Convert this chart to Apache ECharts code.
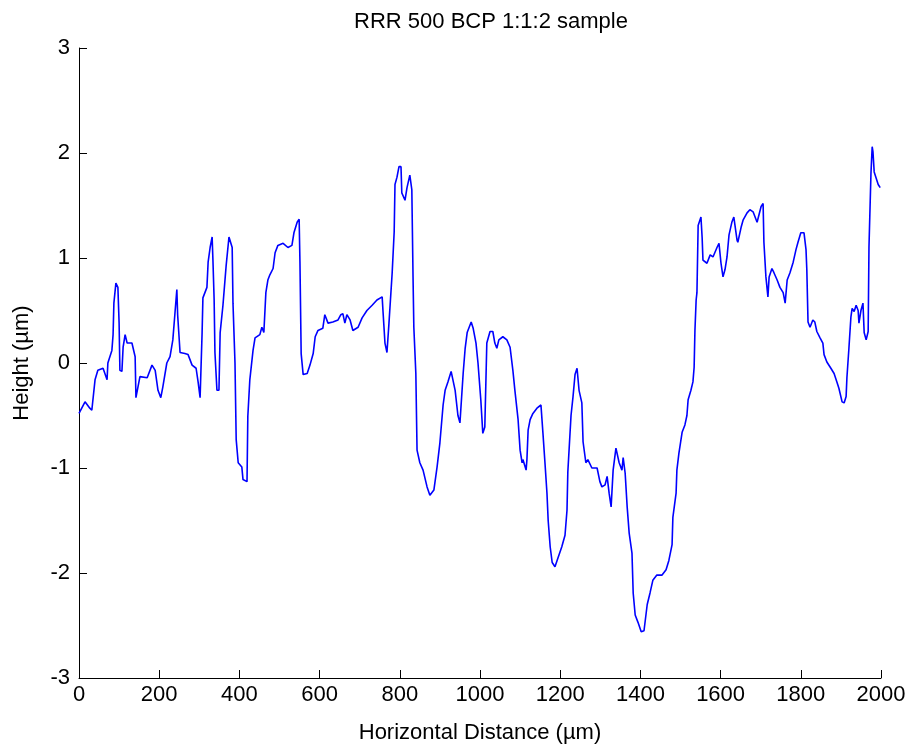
<!DOCTYPE html>
<html>
<head>
<meta charset="utf-8">
<script src="https://cdn.jsdelivr.net/npm/echarts@6/dist/echarts.min.js"></script>
<style>
html,body{margin:0;padding:0;background:#fff;}
#chart{width:910px;height:751px;}
</style>
</head>
<body>
<div id="chart"></div>
<script>
const titleText = "RRR 500 BCP 1:1:2 sample";
const xAxisName = "Horizontal Distance (\u00b5m)";
const yAxisName = "Height (\u00b5m)";

const distance = [
0,15,27,32,40,47,60,70,72,82,85,87,92,97,100,102,107,110,115,120,132,140,142,147,152,170,182,190,197,204,209,219,227,234,239,244,246,252,264,272,282,292,297,302,307,309,319,322,327,332,334,337,339,344,349,352,359,367,374,382,384,389,392,397,406,409,419,421,426,434,439,451,456,461,466,471,476,484,489,496,509,521,531,536,544,549,551,554,559,569,576,584,589,596,608,613,621,633,646,653,658,663,668,676,683,696,706,718,731,743,756,758,763,768,773,781,786,788,793,798,803,805,813,818,825,830,833,835,840,843,850,858,868,875,885,893,900,908,913,920,928,938,945,950,958,963,968,978,983,990,995,1002,1007,1012,1017,1025,1032,1037,1042,1047,1057,1067,1075,1082,1087,1095,1100,1105,1107,1115,1117,1120,1125,1132,1142,1152,1157,1162,1167,1170,1175,1180,1187,1195,1204,1212,1217,1219,1227,1232,1237,1242,1247,1254,1257,1264,1269,1279,1292,1299,1304,1312,1317,1322,1327,1332,1339,1342,1347,1354,1357,1362,1367,1372,1379,1382,1387,1394,1402,1409,1417,1424,1431,1441,1454,1464,1471,1479,1481,1489,1491,1496,1504,1511,1516,1519,1526,1531,1534,1536,1539,1541,1544,1551,1554,1556,1566,1574,1581,1591,1596,1601,1606,1611,1616,1621,1628,1633,1641,1643,1651,1656,1666,1673,1681,1691,1693,1701,1706,1708,1713,1718,1721,1728,1733,1741,1748,1756,1761,1766,1773,1781,1788,1793,1800,1808,1813,1815,1818,1823,1830,1835,1840,1848,1855,1858,1865,1875,1883,1890,1895,1903,1908,1913,1915,1920,1925,1928,1933,1938,1943,1945,1950,1955,1958,1963,1968,1970,1975,1978,1980,1983,1988,1993,1998
];
const height = [
-0.48,-0.37,-0.43,-0.45,-0.16,-0.07,-0.05,-0.16,0,0.12,0.27,0.57,0.76,0.72,0.38,-0.07,-0.08,0.15,0.27,0.19,0.19,0.06,-0.33,-0.23,-0.13,-0.14,-0.02,-0.07,-0.26,-0.33,-0.23,0,0.06,0.22,0.46,0.70,0.46,0.10,0.09,0.08,-0.02,-0.05,-0.18,-0.33,0.29,0.62,0.72,0.96,1.1,1.2,0.98,0.6,0.1,-0.26,-0.26,0.29,0.55,0.93,1.2,1.1,0.57,0,-0.73,-0.95,-0.99,-1.11,-1.13,-0.51,-0.16,0.12,0.24,0.27,0.34,0.29,0.67,0.79,0.84,0.9,1.05,1.12,1.14,1.1,1.12,1.24,1.34,1.37,0.96,0.09,-0.11,-0.1,-0.02,0.09,0.25,0.31,0.33,0.46,0.38,0.39,0.41,0.46,0.47,0.38,0.46,0.41,0.31,0.34,0.43,0.5,0.55,0.6,0.63,0.5,0.19,0.1,0.38,0.86,1.25,1.7,1.77,1.87,1.87,1.62,1.55,1.67,1.79,1.65,0.82,0.34,-0.1,-0.83,-0.95,-1.02,-1.18,-1.26,-1.21,-0.99,-0.76,-0.4,-0.26,-0.18,-0.08,-0.26,-0.5,-0.57,-0.1,0.14,0.29,0.39,0.33,0.19,0,-0.35,-0.67,-0.61,0.19,0.3,0.3,0.19,0.14,0.22,0.25,0.22,0.15,-0.07,-0.26,-0.54,-0.83,-0.95,-0.92,-1.02,-0.92,-0.64,-0.54,-0.48,-0.43,-0.4,-0.67,-0.95,-1.24,-1.5,-1.75,-1.9,-1.94,-1.85,-1.75,-1.64,-1.4,-1.04,-0.5,-0.32,-0.11,-0.05,-0.26,-0.38,-0.75,-0.95,-0.92,-1.0,-1.0,-1.13,-1.18,-1.16,-1.08,-1.24,-1.37,-1.02,-0.81,-0.8,-0.95,-1.02,-0.9,-1.05,-1.37,-1.62,-1.81,-2.19,-2.4,-2.47,-2.56,-2.55,-2.3,-2.19,-2.07,-2.02,-2.02,-1.97,-1.88,-1.73,-1.47,-1.24,-1.02,-0.86,-0.66,-0.59,-0.5,-0.35,-0.26,-0.18,-0.04,0.31,0.6,0.67,1.31,1.39,1.19,0.98,0.95,1.03,1.01,1.1,1.14,0.95,0.82,0.89,1.01,1.22,1.34,1.39,1.17,1.15,1.29,1.36,1.43,1.46,1.44,1.34,1.33,1.49,1.52,1.15,0.82,0.63,0.82,0.9,0.86,0.79,0.72,0.67,0.57,0.79,0.86,0.96,1.08,1.15,1.24,1.24,1.08,0.89,0.39,0.34,0.41,0.39,0.3,0.24,0.19,0.08,0.01,-0.05,-0.1,-0.18,-0.24,-0.37,-0.38,-0.32,-0.14,0.14,0.44,0.52,0.49,0.55,0.5,0.38,0.5,0.57,0.29,0.22,0.3,1.1,1.81,2.06,2.01,1.82,1.76,1.7,1.67
];

const xTicks = {min: 0, max: 2000, step: 200};
const yTicks = {min: -3, max: 3, step: 1};

const FONT = '"Liberation Sans", Arial, sans-serif';
const chart = echarts.init(document.getElementById('chart'), null, {renderer: 'canvas'});
const pts = distance.map((d, i) => [d, height[i]]);

chart.setOption({
  animation: false,
  backgroundColor: '#ffffff',
  title: {
    text: titleText,
    left: 486,
    top: 6,
    textAlign: 'center',
    textStyle: {fontFamily: FONT, fontSize: 22, fontWeight: 'normal', color: '#000'}
  },
  grid: {left: 79, right: 29, top: 48, bottom: 73, containLabel: false},
  xAxis: {
    type: 'value',
    min: xTicks.min, max: xTicks.max, interval: xTicks.step,
    name: xAxisName,
    nameLocation: 'middle',
    nameGap: 44,
    nameTextStyle: {fontFamily: FONT, fontSize: 22, color: '#000'},
    axisLine: {show: true, onZero: false, lineStyle: {color: '#000', width: 1}},
    axisTick: {show: true, inside: true, length: 8, lineStyle: {color: '#000'}},
    axisLabel: {fontFamily: FONT, fontSize: 22, color: '#000', margin: 6, formatter: v => String(v)},
    splitLine: {show: false}
  },
  yAxis: {
    type: 'value',
    min: yTicks.min, max: yTicks.max, interval: yTicks.step,
    name: yAxisName,
    nameLocation: 'middle',
    nameGap: 46,
    nameTextStyle: {fontFamily: FONT, fontSize: 22, color: '#000'},
    axisLine: {show: true, lineStyle: {color: '#000', width: 1}},
    axisTick: {show: true, inside: true, length: 8, lineStyle: {color: '#000'}},
    axisLabel: {fontFamily: FONT, fontSize: 22, color: '#000', margin: 9, formatter: v => String(v)},
    splitLine: {show: false}
  },
  series: [{
    type: 'line',
    data: pts,
    showSymbol: false,
    symbol: 'none',
    lineStyle: {color: '#0000ff', width: 1.6},
    itemStyle: {color: '#0000ff'}
  }]
});
</script>
</body>
</html>
